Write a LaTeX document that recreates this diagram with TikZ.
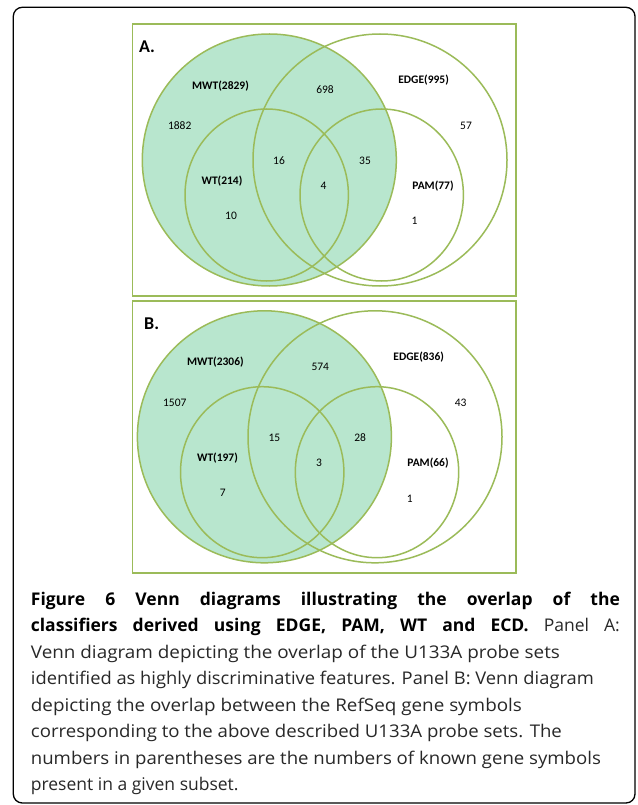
\documentclass[tikz,border=0pt]{standalone}
\usepackage{fontspec}
\usepackage{graphicx}
\setmainfont{Open Sans}
\newfontfamily\vennfont{Carlito}
\definecolor{vline}{RGB}{155,187,89}
\definecolor{vfill}{RGB}{184,230,206}
\definecolor{captxt}{RGB}{40,40,40}
\tikzset{
  panelbox/.style={draw=vline, line width=1.8pt},
  vset/.style={draw=vline, line width=1.5pt},
  setname/.style={font=\vennfont\bfseries\fontsize{11.5}{12}\selectfont, inner sep=0pt, anchor=center},
  setnum/.style={font=\vennfont\fontsize{11.5}{12}\selectfont, inner sep=0pt, anchor=center},
  paneltag/.style={font=\vennfont\bfseries\fontsize{18}{20}\selectfont, inner sep=0pt, anchor=west},
  capline/.style={font=\fontsize{17.5}{20}\selectfont, text=captxt, inner sep=0pt, anchor=base west},
}
\begin{document}
\begin{tikzpicture}[x=1pt,y=-1pt]
\useasboundingbox (0,0) rectangle (637,805);
\fill[white] (0,0) rectangle (637,805);
% outer frame
\draw[line width=1.3pt, rounded corners=9pt] (13.3,7.3) rectangle (635,803);

% ---------- Panel A ----------
\draw[panelbox] (132.5,24) rectangle (516,296);
\fill[vfill] (269.3,160) ellipse [x radius=127, y radius=126];
\draw[vset] (269.3,160) ellipse [x radius=127, y radius=126];
\draw[vset] (380,160) ellipse [x radius=127, y radius=126];
\draw[vset] (266.7,195) ellipse [x radius=81.7, y radius=86];
\draw[vset] (381.7,195) ellipse [x radius=81.7, y radius=86];
\node[paneltag] (tagA) at (139,46.5) {A.};
\node[setname] (mwtA) at (220.5,85.7) {MWT(2829)};
\node[setname] (edgeA) at (423.6,80.5) {EDGE(995)};
\node[setname] (wtA) at (222,181) {WT(214)};
\node[setname] (pamA) at (433,185.7) {PAM(77)};
\node[setnum] (a1882) at (179.7,125.7) {1882};
\node[setnum] (a698) at (325,90) {698};
\node[setnum] (a57) at (466,125.7) {57};
\node[setnum] (a16) at (279,161) {16};
\node[setnum] (a35) at (365,161) {35};
\node[setnum] (a4) at (323.6,185.7) {4};
\node[setnum] (a10) at (231,216) {10};
\node[setnum] (a1) at (414.6,221) {1};

% ---------- Panel B ----------
\draw[panelbox] (132.5,301) rectangle (516,572.7);
\fill[vfill] (264.4,436.8) ellipse [x radius=127, y radius=126];
\draw[vset] (264.4,436.8) ellipse [x radius=127, y radius=126];
\draw[vset] (375,436.8) ellipse [x radius=127, y radius=126];
\draw[vset] (262.2,472.2) ellipse [x radius=81.7, y radius=85.5];
\draw[vset] (377,472.2) ellipse [x radius=81.7, y radius=85.5];
\node[paneltag] (tagB) at (144,323.3) {B.};
\node[setname] (mwtB) at (215.4,362.3) {MWT(2306)};
\node[setname] (edgeB) at (418.7,357.3) {EDGE(836)};
\node[setname] (wtB) at (217.5,457.7) {WT(197)};
\node[setname] (pamB) at (428,462.7) {PAM(66)};
\node[setnum] (b1507) at (174.8,402.7) {1507};
\node[setnum] (b574) at (320.3,367.3) {574};
\node[setnum] (b43) at (460.6,402.7) {43};
\node[setnum] (b15) at (274.4,437.7) {15};
\node[setnum] (b28) at (360.2,437.7) {28};
\node[setnum] (b3) at (319.1,462.7) {3};
\node[setnum] (b7) at (222.8,492.7) {7};
\node[setnum] (b1) at (409.8,498.3) {1};

% ---------- Caption ----------
\node[capline, text=black] (c1) at (30.7,605) {\makebox[589pt][s]{\bfseries Figure 6 Venn diagrams illustrating the overlap of the}};
\node[capline] (c2) at (30.7,631) {\makebox[589pt][s]{\textcolor{black}{\bfseries classifiers derived using EDGE, PAM, WT and ECD.} Panel A:}};
\node[capline] (c3) at (30.7,658) {\resizebox{529pt}{\height}{Venn diagram depicting the overlap of the U133A probe sets}};
\node[capline] (c4) at (30.7,684.5) {\resizebox{563pt}{\height}{identified as highly discriminative features. Panel B: Venn diagram}};
\node[capline] (c5) at (30.7,711) {\resizebox{491pt}{\height}{depicting the overlap between the RefSeq gene symbols}};
\node[capline] (c6) at (30.7,737.5) {\resizebox{531pt}{\height}{corresponding to the above described U133A probe sets. The}};
\node[capline] (c7) at (30.7,764) {\resizebox{570pt}{\height}{numbers in parentheses are the numbers of known gene symbols}};
\node[capline] (c8) at (30.7,790.5) {present in a given subset.};
\end{tikzpicture}
\end{document}
